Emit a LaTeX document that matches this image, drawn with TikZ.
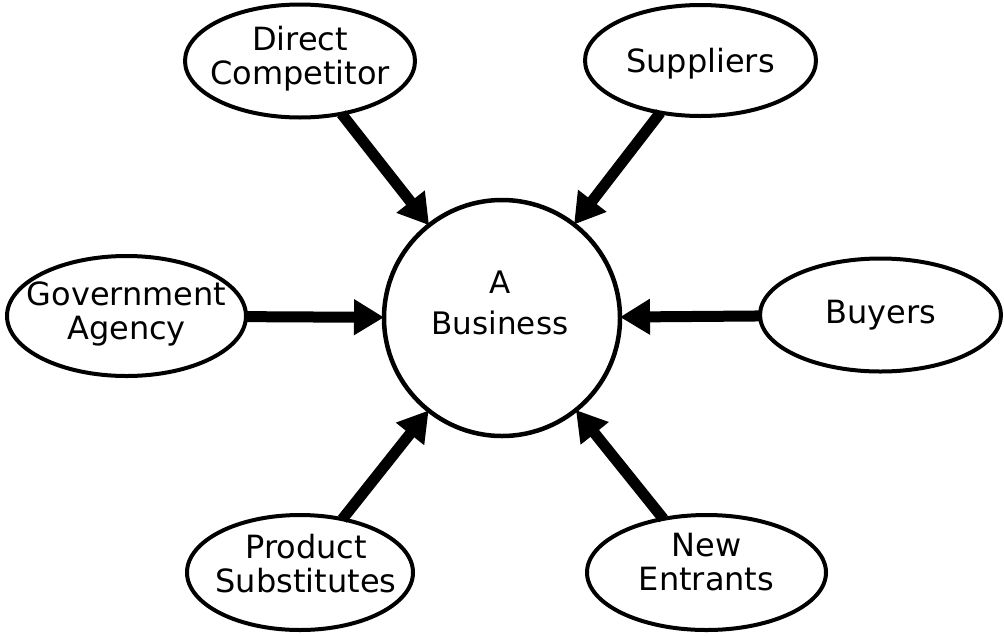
\documentclass[tikz,border=0pt]{standalone}
\usepackage{fontspec}
\setmainfont{DejaVu Sans}
\usetikzlibrary{arrows.meta,shapes.geometric}
\begin{document}
\begin{tikzpicture}[x=1pt,y=-1pt,
  actor/.style={ellipse, draw, line width=4pt, inner sep=0pt, outer sep=0pt},
  caption/.style={align=center, inner sep=0pt, font=\fontsize{32}{34}\selectfont},
  bizcircle/.style={circle, draw, line width=4.5pt, minimum size=236pt,
    inner sep=0pt, outer sep=0pt},
  force/.style={line width=11pt, -{Triangle[length=30pt,width=34pt]}}]
\useasboundingbox (0,0) rectangle (1004,635);

% the business at the centre
\node[bizcircle, label={[caption, font=\fontsize{31}{41}\selectfont, xshift=-2pt, yshift=15pt]center:A\\Business}] (biz) at (502,318) {};

% the surrounding forces (the ellipse size is fixed, the caption sits on top)
\node[actor, minimum width=230pt, minimum height=113pt,
      label={[caption, yshift=2pt]center:Direct\\Competitor}] (dc) at (300,61) {};
\node[actor, minimum width=231pt, minimum height=111pt,
      label={[caption, yshift=-3pt]center:Suppliers}] (sup) at (700.5,60.5) {};
\node[actor, minimum width=239pt, minimum height=120pt,
      label={[caption, yshift=2pt]center:Government\\Agency}] (gov) at (126.5,316) {};
\node[actor, minimum width=241pt, minimum height=113pt,
      label={[caption]center:Buyers}] (buy) at (880.5,315) {};
\node[actor, minimum width=226pt, minimum height=115pt,
      label={[caption, xshift=6pt, yshift=9pt]center:Product\\Substitutes}] (ps) at (300,572.5) {};
\node[actor, minimum width=239pt, minimum height=115pt,
      label={[caption, yshift=10pt]center:New\\Entrants}] (ne) at (706.5,572.5) {};

% influence arrows
\draw[force] (dc)  -- (biz);
\draw[force] (sup) -- (biz);
\draw[force] (gov) -- (biz);
\draw[force] (buy) -- (biz);
\draw[force] (ps)  -- (biz);
\draw[force] (ne)  -- (biz);
\end{tikzpicture}
\end{document}
